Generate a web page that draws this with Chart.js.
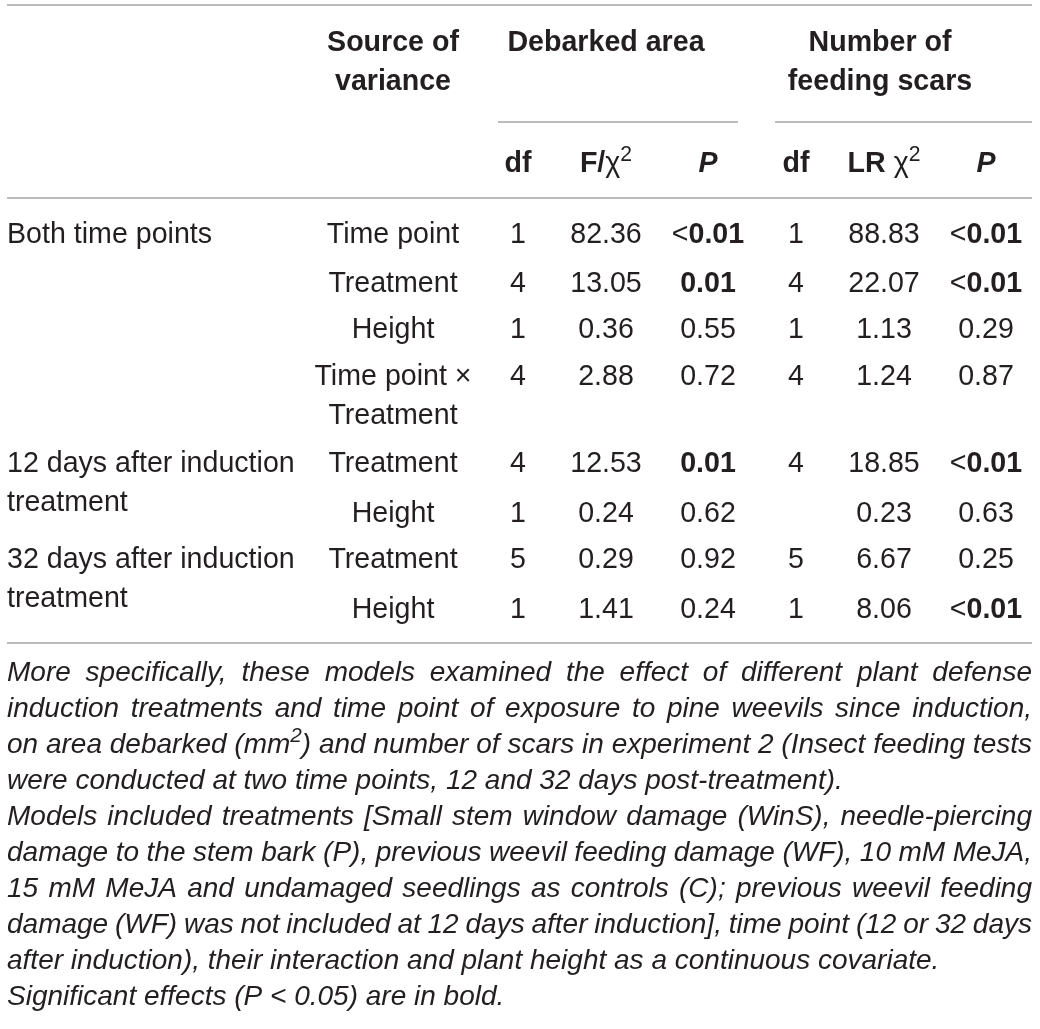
<!DOCTYPE html>
<html>
<head>
<meta charset="utf-8">
<script src="https://cdn.jsdelivr.net/npm/chart.js@4.4.1/dist/chart.umd.min.js"></script>
<style>
html,body{margin:0;padding:0;background:#ffffff;}
#wrap{width:1040px;height:1029px;position:relative;}
</style>
</head>
<body>
<div id="wrap"><canvas id="c"></canvas></div>
<script>
// ---------------- DATA ----------------
const groupLabels   = ["Both time points", "", "", "", "12 days after induction|treatment", "", "32 days after induction|treatment", ""];
const sourceLabels  = ["Time point", "Treatment", "Height", "Time point \u00d7|Treatment", "Treatment", "Height", "Treatment", "Height"];
const dfArea        = ["1", "4", "1", "4", "4", "1", "5", "1"];
const fArea         = ["82.36", "13.05", "0.36", "2.88", "12.53", "0.24", "0.29", "1.41"];
const pArea         = ["<0.01", "0.01", "0.55", "0.72", "0.01", "0.62", "0.92", "0.24"];
const dfScars       = ["1", "4", "1", "4", "4", "", "5", "1"];
const lrScars       = ["88.83", "22.07", "1.13", "1.24", "18.85", "0.23", "6.67", "8.06"];
const pScars        = ["<0.01", "<0.01", "0.29", "0.87", "<0.01", "0.63", "0.25", "<0.01"];
const groupHeaders  = ["Source of|variance", "Debarked area", "Number of|feeding scars"];
const subHeaders    = ["df", "F/\u03c7^2", "P", "df", "LR \u03c7^2", "P"];
const footnoteLines = [
  "More specifically, these models examined the effect of different plant defense",
  "induction treatments and time point of exposure to pine weevils since induction,",
  "on area debarked (mm^2) and number of scars in experiment 2 (Insect feeding tests",
  "were conducted at two time points, 12 and 32 days post-treatment).",
  "Models included treatments [Small stem window damage (WinS), needle-piercing",
  "damage to the stem bark (P), previous weevil feeding damage (WF), 10 mM MeJA,",
  "15 mM MeJA and undamaged seedlings as controls (C); previous weevil feeding",
  "damage (WF) was not included at 12 days after induction], time point (12 or 32 days",
  "after induction), their interaction and plant height as a continuous covariate.",
  "Significant effects (P < 0.05) are in bold."
];
const footnoteJustified = [true, true, true, false, true, true, true, true, false, false];
const ALPHA = 0.05;

// ---------------- LAYOUT / STYLE ----------------
const COL_X = { group: 7, source: 393, dfA: 518, fA: 606, pA: 708, dfS: 796, lrS: 884, pS: 986 };
const ROW_Y = [243, 292, 338, 385, 472, 522, 568, 618];
const WRAP_STEP = 39;
const HEAD_Y = [51, 90];
const SUBHEAD_Y = 172;
const GROUP_HEAD_X = [393, 606, 880];
const RULES = [
  { x0: 7, x1: 1032, y: 5 },
  { x0: 498, x1: 738, y: 122 },
  { x0: 775, x1: 1032, y: 122 },
  { x0: 7, x1: 1032, y: 198 },
  { x0: 7, x1: 1032, y: 643 }
];
const FOOT_X0 = 7, FOOT_X1 = 1032, FOOT_Y0 = 681, FOOT_STEP = 36;
const FONT = '"Liberation Sans", Arial, Helvetica, sans-serif';
const FS = 28.6, FOOT_FS = 28;
const SUP_SCALE = 0.74, SUP_RAISE = 0.4;
const TEXT_COLOR = '#231f20';
const RULE_COLOR = '#a6a6a6';

// ---------------- helpers ----------------
function fontStr(seg, size) {
  return (seg.i ? 'italic ' : '') + (seg.b ? 'bold ' : '') + size + 'px ' + FONT;
}
// parse "^x" as superscript of one char
function parseSup(str, base) {
  const segs = [];
  let buf = '';
  for (let k = 0; k < str.length; k++) {
    if (str[k] === '^' && k + 1 < str.length) {
      if (buf) { segs.push(Object.assign({}, base, { t: buf })); buf = ''; }
      segs.push(Object.assign({}, base, { t: str[k + 1], sup: true }));
      k++;
    } else buf += str[k];
  }
  if (buf) segs.push(Object.assign({}, base, { t: buf }));
  return segs;
}
function segWidth(ctx, seg, size) {
  const s = seg.sup ? size * SUP_SCALE : size;
  ctx.font = fontStr(seg, s);
  return ctx.measureText(seg.t).width;
}
function richWidth(ctx, segs, size) {
  return segs.reduce((a, s) => a + segWidth(ctx, s, size), 0);
}
function drawRich(ctx, segs, x, y, align, size) {
  const w = richWidth(ctx, segs, size);
  let cx = align === 'center' ? x - w / 2 : (align === 'right' ? x - w : x);
  ctx.textBaseline = 'alphabetic';
  ctx.textAlign = 'left';
  for (const s of segs) {
    const sz = s.sup ? size * SUP_SCALE : size;
    ctx.font = fontStr(s, sz);
    ctx.fillText(s.t, cx, s.sup ? y - size * SUP_RAISE : y);
    cx += ctx.measureText(s.t).width;
  }
  return w;
}
function pValue(str) { return parseFloat(str.replace('<', '')); }
function valueSegs(str, isP) {
  if (isP && pValue(str) < ALPHA) {
    if (str[0] === '<') return [{ t: '<' }, { t: str.slice(1), b: true }];
    return [{ t: str, b: true }];
  }
  return [{ t: str }];
}

// ---------------- datasets (cell anchors through the scales) ----------------
const cellColumns = [
  { key: 'group',  values: groupLabels,  align: 'left',   isP: false },
  { key: 'source', values: sourceLabels, align: 'center', isP: false },
  { key: 'dfA',    values: dfArea,       align: 'center', isP: false },
  { key: 'fA',     values: fArea,        align: 'center', isP: false },
  { key: 'pA',     values: pArea,        align: 'center', isP: true },
  { key: 'dfS',    values: dfScars,      align: 'center', isP: false },
  { key: 'lrS',    values: lrScars,      align: 'center', isP: false },
  { key: 'pS',     values: pScars,       align: 'center', isP: true }
];
const cellDatasets = cellColumns.map(col => ({
  type: 'scatter',
  label: col.key,
  data: col.values.map((v, i) => ({ x: COL_X[col.key], y: ROW_Y[i], text: v })),
  pointRadius: 0,
  pointHoverRadius: 0,
  showLine: false,
  cellAlign: col.align,
  cellIsP: col.isP,
  isCell: true
}));
const ruleDatasets = RULES.map(r => ({
  type: 'line',
  label: 'rule',
  data: [{ x: r.x0, y: r.y }, { x: r.x1, y: r.y }],
  borderColor: RULE_COLOR,
  borderWidth: 1.6,
  pointRadius: 0,
  pointHoverRadius: 0,
  fill: false,
  isCell: false
}));
const headerDataset = {
  type: 'scatter',
  label: 'headers',
  data: subHeaders.map((h, i) => ({ x: [COL_X.dfA, COL_X.fA, COL_X.pA, COL_X.dfS, COL_X.lrS, COL_X.pS][i], y: SUBHEAD_Y, text: h })),
  pointRadius: 0, pointHoverRadius: 0, isCell: false, isSubHeader: true
};
const groupHeaderDataset = {
  type: 'scatter',
  label: 'groupHeaders',
  data: groupHeaders.map((h, i) => ({ x: GROUP_HEAD_X[i], y: HEAD_Y[0], text: h })),
  pointRadius: 0, pointHoverRadius: 0, isCell: false, isGroupHeader: true
};
const footDataset = {
  type: 'scatter',
  label: 'footnote',
  data: footnoteLines.map((l, i) => ({ x: FOOT_X0, y: FOOT_Y0 + i * FOOT_STEP, text: l, just: footnoteJustified[i] })),
  pointRadius: 0, pointHoverRadius: 0, isCell: false, isFoot: true
};

const tablePlugin = {
  id: 'tableText',
  afterDatasetsDraw(chart) {
    const ctx = chart.ctx;
    const xs = chart.scales.x, ys = chart.scales.y;
    ctx.save();
    ctx.fillStyle = TEXT_COLOR;
    chart.data.datasets.forEach((ds, di) => {
      const meta = chart.getDatasetMeta(di);
      if (ds.isCell) {
        meta.data.forEach((pt, k) => {
          const raw = ds.data[k].text;
          if (!raw) return;
          const lines = raw.split('|');
          lines.forEach((ln, li) => {
            const y = pt.y + (ys.getPixelForValue(ds.data[k].y + WRAP_STEP * li) - ys.getPixelForValue(ds.data[k].y));
            drawRich(ctx, valueSegs(ln, ds.cellIsP), pt.x, y, ds.cellAlign, FS);
          });
        });
      } else if (ds.isGroupHeader) {
        meta.data.forEach((pt, k) => {
          const lines = ds.data[k].text.split('|');
          lines.forEach((ln, li) => {
            const y = ys.getPixelForValue(HEAD_Y[li]);
            drawRich(ctx, [{ t: ln, b: true }], pt.x, y, 'center', FS);
          });
        });
      } else if (ds.isSubHeader) {
        meta.data.forEach((pt, k) => {
          const h = ds.data[k].text;
          let segs;
          if (h === 'P') segs = [{ t: 'P', b: true, i: true }];
          else if (h.indexOf('\u03c7') >= 0) {
            const pre = h.split('\u03c7')[0];
            segs = [{ t: pre, b: true }, { t: '\u03c7' }, { t: '2', sup: true }];
          } else segs = [{ t: h, b: true }];
          drawRich(ctx, segs, pt.x, pt.y, 'center', FS);
        });
      } else if (ds.isFoot) {
        const x0 = xs.getPixelForValue(FOOT_X0), x1 = xs.getPixelForValue(FOOT_X1);
        meta.data.forEach((pt, k) => {
          const words = ds.data[k].text.split(' ').map(w => parseSup(w, { i: true }));
          const widths = words.map(w => richWidth(ctx, w, FOOT_FS));
          const total = widths.reduce((a, b) => a + b, 0);
          ctx.font = 'italic ' + FOOT_FS + 'px ' + FONT;
          const spaceW = ctx.measureText(' ').width;
          let gap = ds.data[k].just && words.length > 1 ? (x1 - x0 - total) / (words.length - 1) : spaceW;
          if (gap < spaceW * 0.6) gap = spaceW * 0.6;
          let cx = pt.x;
          words.forEach((w, wi) => {
            drawRich(ctx, w, cx, pt.y, 'left', FOOT_FS);
            cx += widths[wi] + gap;
          });
        });
      }
    });
    ctx.restore();
  }
};

new Chart(document.getElementById('c'), {
  type: 'scatter',
  data: { datasets: [...ruleDatasets, ...cellDatasets, headerDataset, groupHeaderDataset, footDataset] },
  options: {
    responsive: true,
    maintainAspectRatio: false,
    animation: false,
    events: [],
    layout: { padding: 0 },
    plugins: { legend: { display: false }, tooltip: { enabled: false }, title: { display: false } },
    scales: {
      x: { type: 'linear', min: 0, max: 1040, display: false },
      y: { type: 'linear', min: 0, max: 1029, reverse: true, display: false }
    }
  },
  plugins: [tablePlugin]
});
</script>
</body>
</html>
